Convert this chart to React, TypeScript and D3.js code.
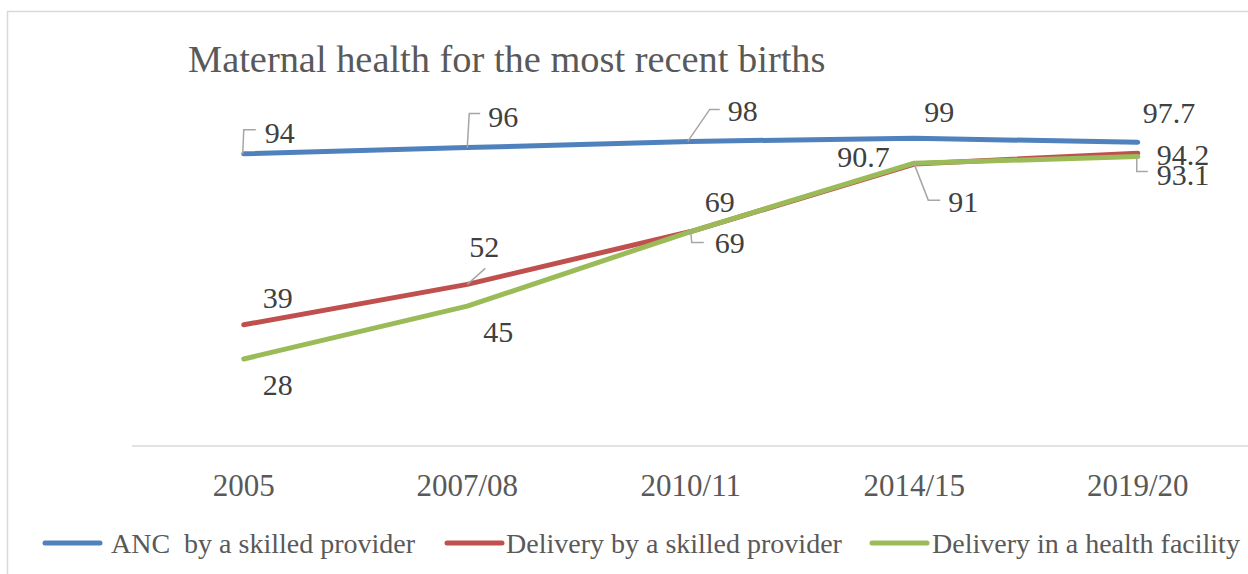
import React from "react";
import * as d3 from "d3";

const categories = ["2005", "2007/08", "2010/11", "2014/15", "2019/20"];
const ancValues = [94, 96, 98, 99, 97.7];
const skilledDeliveryValues = [39, 52, 69, 90.7, 94.2];
const facilityDeliveryValues = [28, 45, 69, 91, 93.1];
const seriesNames = ["ANC  by a skilled provider", "Delivery by a skilled provider", "Delivery in a health facility"];
const yDomain = [0, 120];

const W = 1248;
const H = 574;
const COLORS = ["#4f81bd", "#c0504d", "#9bbb59"];
const FONT = "'Liberation Serif', 'Times New Roman', serif";

// label layout: offsets from point (text start / baseline) and optional leader (relative points)
type Lab = { dx: number; dy: number; leader?: [number, number][] };
const labelLayout: Lab[][] = [
  [
    { dx: 21, dy: -11, leader: [[-1, 0], [0, -24], [12, -24]] },
    { dx: 21, dy: -21, leader: [[0, 0], [2, -34], [13, -34]] },
    { dx: 37, dy: -20, leader: [[-3, 0], [19, -32], [29, -32]] },
    { dx: 10, dy: -16.5 },
    { dx: 5, dy: -19.5 },
  ],
  [
    { dx: 19, dy: -17 },
    { dx: 2, dy: -27.5, leader: [[0, 0], [18, -16]] },
    { dx: 14, dy: -20 },
    { dx: -77, dy: 3 },
    { dx: 19, dy: 11.6 },
  ],
  [
    { dx: 19, dy: 36 },
    { dx: 16, dy: 36 },
    { dx: 24, dy: 21, leader: [[0, 0], [1, 11], [13, 11]] },
    { dx: 34, dy: 48.6, leader: [[0, 1], [14, 37], [26, 37]] },
    { dx: 19, dy: 28, leader: [[-1, 1], [-1, 15], [10, 15]] },
  ],
];

const legendLayout = [
  { x: 45, textX: 111 },
  { x: 447, textX: 506 },
  { x: 872, textX: 932 },
];

export default function App() {
  const series = [ancValues, skilledDeliveryValues, facilityDeliveryValues];
  const x = d3.scalePoint<string>().domain(categories).range([132, 1249.5]).padding(0.5);
  const y = d3.scaleLinear().domain(yDomain).range([446, 73]);
  const line = d3
    .line<number>()
    .x((_, i) => x(categories[i]) as number)
    .y((d) => y(d));
  const leaderLine = d3.line<[number, number]>();

  return (
    <svg
      width={W}
      height={H}
      style={{ position: "fixed", left: 0, top: 0, background: "#fff" }}
      fontFamily={FONT}
    >
      <rect x={0} y={0} width={W} height={H} fill="#fff" />
      <rect x={7.5} y={11.5} width={1400} height={700} fill="none" stroke="#d9d9d9" strokeWidth={1.5} />
      <text x={188} y={72} fontSize={38.4} fill="#595959">
        Maternal health for the most recent births
      </text>
      <line x1={132} x2={1249} y1={y(0)} y2={y(0)} stroke="#d9d9d9" strokeWidth={1.5} />
      {categories.map((c) => (
        <text key={c} x={x(c)} y={496} textAnchor="middle" fontSize={31} fill="#595959">
          {c}
        </text>
      ))}
      {series.map((vals, si) => (
        <path
          key={si}
          d={line(vals) || ""}
          fill="none"
          stroke={COLORS[si]}
          strokeWidth={5}
          strokeLinecap="round"
          strokeLinejoin="round"
        />
      ))}
      {series.map((vals, si) =>
        vals.map((v, i) => {
          const px = x(categories[i]) as number;
          const py = y(v);
          const lab = labelLayout[si][i];
          return (
            <g key={`${si}-${i}`}>
              {lab.leader && (
                <path
                  d={leaderLine(lab.leader.map(([a, b]) => [px + a, py + b] as [number, number])) || ""}
                  fill="none"
                  stroke="#a6a6a6"
                  strokeWidth={1.5}
                />
              )}
              <text x={px + lab.dx} y={py + lab.dy} fontSize={30} fill="#404040">
                {String(v)}
              </text>
            </g>
          );
        })
      )}
      {seriesNames.map((name, si) => (
        <g key={name}>
          <line
            x1={legendLayout[si].x}
            x2={legendLayout[si].x + 55}
            y1={543}
            y2={543}
            stroke={COLORS[si]}
            strokeWidth={5}
            strokeLinecap="round"
          />
          <text
            x={legendLayout[si].textX}
            y={553}
            fontSize={28}
            fill="#595959"
            style={{ whiteSpace: "pre" }}
          >
            {name}
          </text>
        </g>
      ))}
    </svg>
  );
}
